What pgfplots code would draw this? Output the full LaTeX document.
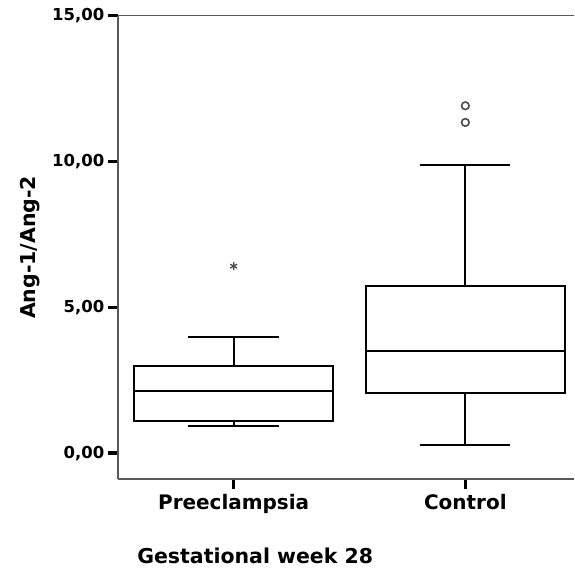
\documentclass[border=0pt]{standalone}
\usepackage{fontspec}
\setmainfont{DejaVu Sans}
\usepackage{pgfplots}
\usepgfplotslibrary{statistics}
\pgfplotsset{compat=1.18}

\begin{document}
\begin{tikzpicture}
  \begin{axis}[
    scale only axis,
    width=457pt, height=464pt,
    xmin=0.5, xmax=2.47,
    ymin=-0.89, ymax=15,
    clip=false,
    axis x line=box, axis y line=left,
    axis line style={-, draw=black!65, line width=1.6pt},
    xtick={1,2}, xticklabels={Preeclampsia, Control},
    ytick={0,5,10,15},
    xtick pos=left, ytick pos=left,
    tick align=outside,
    major tick length=10pt,
    tick style={black, line width=3.2pt},
    yticklabel style={/pgf/number format/.cd, fixed, fixed zerofill, precision=2, use comma, assume math mode=true},
    yticklabel={\pgfmathprintnumber{\tick}},
    ticklabel style={font=\bfseries\fontsize{16.5}{18}\selectfont},
    xticklabel style={font=\bfseries\fontsize{20}{22}\selectfont, yshift=-2pt},
    xlabel={Gestational week 28},
    ylabel={Ang-1/Ang-2},
    label style={font=\bfseries\fontsize{20.5}{22}\selectfont},
    xlabel style={at={(axis description cs:0.301,-0.166)}, anchor=center},
    ylabel style={at={(axis description cs:-0.1926,0.5)}, anchor=center},
    boxplot/draw direction=y,
    boxplot/box extend=0.86,
    boxplot/whisker extend=0.39,
  ]
    % Preeclampsia
    \addplot[black, line width=2pt, mark=asterisk, mark size=4pt,
      mark options={black!70, line width=1.3pt},
      boxplot prepared={
        draw position=1,
        lower whisker=0.93, lower quartile=1.10,
        median=2.13, upper quartile=2.98,
        upper whisker=3.98
      }] coordinates {(0,6.41)};

    % Control
    \addplot[black, line width=2pt, mark=o, mark size=3.8pt,
      mark options={black!70, line width=1.6pt},
      boxplot prepared={
        draw position=2,
        lower whisker=0.28, lower quartile=2.06,
        median=3.51, upper quartile=5.73,
        upper whisker=9.88
      }] coordinates {(0,11.91) (0,11.34)};

    % page extent
    \path (rel axis cs:0,1) ++(-118pt,15.7pt) coordinate (tl);
    \path (rel axis cs:1,0) ++(0pt,-91pt) coordinate (br);
  \end{axis}
\end{tikzpicture}
\end{document}
